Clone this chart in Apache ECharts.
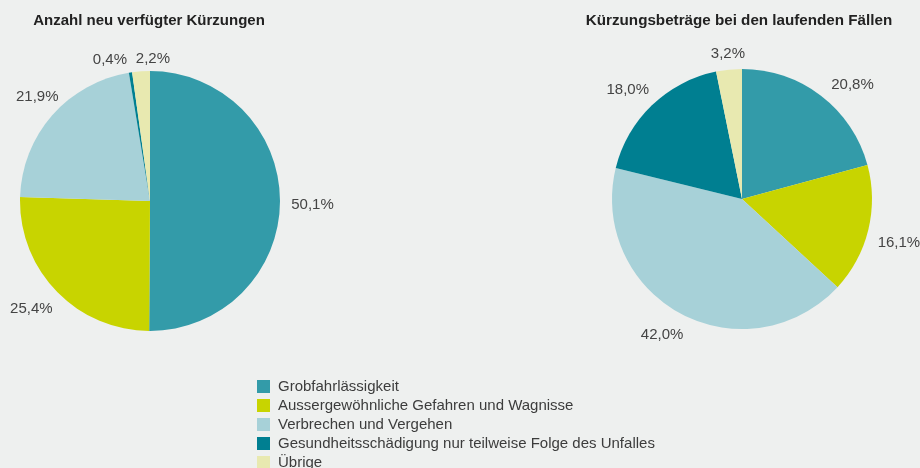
<!DOCTYPE html>
<html>
<head>
<meta charset="utf-8">
<script src="https://cdn.jsdelivr.net/npm/echarts@6/dist/echarts.min.js"></script>
<style>
html,body{margin:0;padding:0;background:#eef0ef;}
#c{width:920px;height:468px;}
</style>
</head>
<body>
<div id="c"></div>
<script>
const categories = [
  "Grobfahrlässigkeit",
  "Aussergewöhnliche Gefahren und Wagnisse",
  "Verbrechen und Vergehen",
  "Gesundheitsschädigung nur teilweise Folge des Unfalles",
  "Übrige"
];
const colors = ["#339ba9", "#c8d400", "#a7d1d8", "#007f91", "#e8e9b0"];
const anzahlValues = [50.1, 25.4, 21.9, 0.4, 2.2];
const betraegeValues = [20.8, 16.1, 42.0, 18.0, 3.2];
const titles = ["Anzahl neu verfügter Kürzungen", "Kürzungsbeträge bei den laufenden Fällen"];

const FONT = '"Liberation Sans", Arial, Helvetica, sans-serif';
const fmt = v => v.toFixed(1).replace('.', ',') + '%';

// label nudges (styling only)
const leftOffsets = [[2, 3], [-3, -3], [8, 2], [-16, 18], [14, 18]];
const rightOffsets = [[13, 13], [1, 6], [-4, -6], [-3, 7], [2, 15]];

function mkData(vals, offsets, forLabels) {
  return vals.map((v, i) => {
    const d = { name: categories[i], value: v, itemStyle: { color: forLabels ? 'rgba(0,0,0,0)' : colors[i] } };
    if (forLabels && offsets[i]) d.label = { offset: offsets[i] };
    return d;
  });
}

function piePair(vals, center, offsets) {
  return [
    {
      type: 'pie', center: center, radius: [0, 130], startAngle: 90, clockwise: true,
      label: { show: false }, labelLine: { show: false },
      itemStyle: { borderWidth: 0 },
      emphasis: { disabled: true }, silent: true,
      data: mkData(vals, offsets, false)
    },
    {
      type: 'pie', center: center, radius: [145, 170], startAngle: 90, clockwise: true,
      label: {
        show: true, position: 'inside', rotate: 0,
        formatter: p => fmt(p.value),
        color: '#444444', fontSize: 15, fontFamily: FONT
      },
      labelLine: { show: false },
      itemStyle: { borderWidth: 0 },
      emphasis: { disabled: true }, silent: true,
      data: mkData(vals, offsets, true)
    }
  ];
}

const chart = echarts.init(document.getElementById('c'), null, { renderer: 'canvas' });
chart.setOption({
  backgroundColor: '#eef0ef',
  animation: false,
  title: [
    { text: titles[0], left: 149, top: 13, textAlign: 'center', padding: 0,
      textStyle: { fontSize: 15, fontWeight: 'bold', color: '#222', fontFamily: FONT } },
    { text: titles[1], left: 739, top: 13, textAlign: 'center', padding: 0,
      textStyle: { fontSize: 15.2, fontWeight: 'bold', color: '#222', fontFamily: FONT } }
  ],
  legend: {
    orient: 'vertical', left: 257, top: 378, height: 200, padding: 0,
    icon: 'rect', itemWidth: 13, itemHeight: 13, itemGap: 2,
    selectedMode: false,
    data: categories.map((c, i) => ({ name: c, itemStyle: { color: colors[i] } })),
    textStyle: { fontSize: 15, color: '#3c3c3c', fontFamily: FONT, lineHeight: 17, padding: [0, 0, 0, 3] }
  },
  series: [
    ...piePair(anzahlValues, [150, 201], leftOffsets),
    ...piePair(betraegeValues, [742, 199], rightOffsets)
  ]
});
</script>
</body>
</html>
